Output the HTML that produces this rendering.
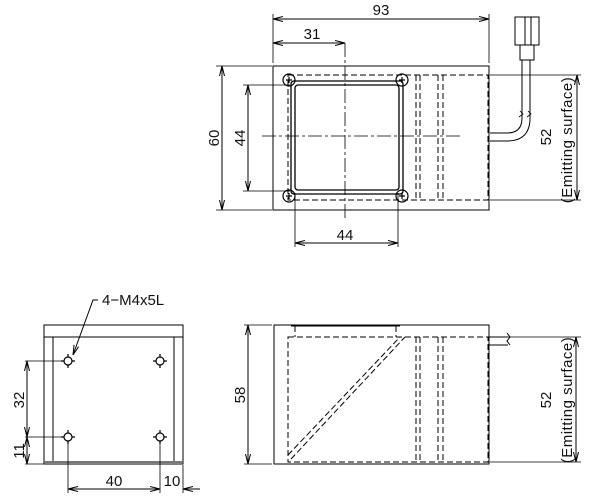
<!DOCTYPE html>
<html><head><style>
html,body{margin:0;padding:0;background:#fff;}
svg{display:block;}
text{font-family:"Liberation Sans",sans-serif;fill:#111;font-size:15px;}
.es{letter-spacing:0.5px;}
</style></head><body>
<svg width="604" height="501" viewBox="0 0 604 501" xmlns="http://www.w3.org/2000/svg">
<defs>
<marker id="a" viewBox="0 0 10 6" refX="10" refY="3" markerWidth="10" markerHeight="6" orient="auto-start-reverse" markerUnits="userSpaceOnUse"><path d="M0,0.5 L10,3 L0,5.5" fill="none" stroke="#000" stroke-width="1"/></marker>
</defs>
<g stroke="#000" stroke-width="1" fill="none">
<rect x="273" y="66" width="216" height="144"/>
<g stroke-dasharray="6,3">
<rect x="288" y="75" width="200" height="125"/>
<line x1="416" y1="75" x2="416" y2="200"/><line x1="420" y1="75" x2="420" y2="200"/>
<line x1="438" y1="75" x2="438" y2="200"/><line x1="443" y1="75" x2="443" y2="200"/>
</g>
<rect x="291" y="81" width="112" height="113" rx="3" stroke-width="1.3"/>
<rect x="295" y="85" width="104" height="105" rx="3" stroke-width="1.3"/>
<g stroke-width="1.2">
<circle cx="289" cy="80" r="6"/><circle cx="402" cy="80" r="6"/><circle cx="289" cy="196" r="6"/><circle cx="402" cy="196" r="6"/>
<path d="M286,80h6M289,77v6M399,80h6M402,77v6M286,196h6M289,193v6M399,196h6M402,193v6"/>
</g>
<g stroke-dasharray="14,3,3,3" stroke-width="0.8">
<line x1="345" y1="43" x2="345" y2="218"/>
<line x1="262" y1="136" x2="460" y2="136"/>
</g>
<rect x="515" y="17" width="24" height="28"/>
<path d="M525,17v28M531,17v28"/>
<rect x="520" y="45" width="14" height="15"/>
<path d="M522,60V118 Q522,133 507,133H490M530,60V118 Q530,141 507,141H490"/>
<path d="M519,117l4,-3l-3,-3M527,117l4,-3l-3,-3" stroke-width="0.8"/>
<path d="M273,63V14M489,63V14M216,66H272M216,210H272M243,85H290M243,191H290M295,193V247M398,193V247M490,75H581M490,200H581" stroke-width="0.8"/>
<line x1="273" y1="19" x2="489" y2="19" marker-start="url(#a)" marker-end="url(#a)"/>
<line x1="273" y1="43" x2="345" y2="43" marker-start="url(#a)" marker-end="url(#a)"/>
<line x1="222" y1="66" x2="222" y2="210" marker-start="url(#a)" marker-end="url(#a)"/>
<line x1="248" y1="85" x2="248" y2="191" marker-start="url(#a)" marker-end="url(#a)"/>
<line x1="295" y1="243" x2="398" y2="243" marker-start="url(#a)" marker-end="url(#a)"/>
<line x1="577" y1="75" x2="577" y2="200" marker-start="url(#a)" marker-end="url(#a)"/>

<rect x="44" y="325" width="139" height="139"/>
<path d="M44,337H183M53,337V462M174,337V462"/>
<line x1="44" y1="462" x2="183" y2="462" stroke-width="2" stroke="#777"/>
<g stroke-width="1.2">
<circle cx="68" cy="361" r="4"/><circle cx="160" cy="361" r="4"/><circle cx="68" cy="437" r="4"/><circle cx="160" cy="437" r="4"/>
<path d="M61,361h3M72,361h3M68,354v3M68,365v3M153,361h3M164,361h3M160,354v3M160,365v3M61,437h3M72,437h3M68,430v3M68,441v3M153,437h3M164,437h3M160,430v3M160,441v3"/>
</g>
<path d="M25,361H62M25,437H62M25,464H44M68,442V493M160,442V493M183,465V493" stroke-width="0.8"/>
<line x1="27" y1="361" x2="27" y2="437" marker-start="url(#a)" marker-end="url(#a)"/>
<line x1="27" y1="437" x2="27" y2="464" marker-start="url(#a)" marker-end="url(#a)"/>
<line x1="68" y1="489" x2="160" y2="489" marker-start="url(#a)" marker-end="url(#a)"/>
<line x1="200" y1="489" x2="183" y2="489" marker-end="url(#a)"/>
<path d="M98,300H93L73,355" marker-end="url(#a)"/>

<rect x="274" y="325" width="215" height="139"/>
<path d="M291,326H400"/>
<g stroke-dasharray="6,3">
<path d="M295,326V337M396,326V337"/>
<rect x="288" y="337" width="200" height="125"/>
<line x1="288" y1="455" x2="400" y2="337"/><line x1="291" y1="459" x2="405" y2="337"/>
<line x1="416" y1="337" x2="416" y2="462"/><line x1="420" y1="337" x2="420" y2="462"/>
<line x1="438" y1="337" x2="438" y2="462"/><line x1="443" y1="337" x2="443" y2="462"/>
</g>
<path d="M489,337H508M489,345H508M507,333l3,4l-3,4l3,4" />
<path d="M244,325H272M244,464H272M490,337H581M490,462H581" stroke-width="0.8"/>
<line x1="248" y1="325" x2="248" y2="464" marker-start="url(#a)" marker-end="url(#a)"/>
<line x1="576" y1="337" x2="576" y2="462" marker-start="url(#a)" marker-end="url(#a)"/>
</g>
<text x="381" y="15" text-anchor="middle">93</text>
<text x="312" y="39" text-anchor="middle">31</text>
<text x="345" y="240" text-anchor="middle">44</text>
<text transform="translate(219,138) rotate(-90)" text-anchor="middle">60</text>
<text transform="translate(245,138) rotate(-90)" text-anchor="middle">44</text>
<text transform="translate(551,137) rotate(-90)" text-anchor="middle">52</text>
<text class="es" transform="translate(572,140) rotate(-90)" text-anchor="middle">(Emitting  surface)</text>
<text x="102" y="305">4−M4x5L</text>
<text transform="translate(24,400) rotate(-90)" text-anchor="middle">32</text>
<text transform="translate(24,451) rotate(-90)" text-anchor="middle">11</text>
<text x="114" y="486" text-anchor="middle">40</text>
<text x="172" y="486" text-anchor="middle">10</text>
<text transform="translate(245,395) rotate(-90)" text-anchor="middle">58</text>
<text transform="translate(551,400) rotate(-90)" text-anchor="middle">52</text>
<text class="es" transform="translate(572,400) rotate(-90)" text-anchor="middle">(Emitting  surface)</text>
</svg>
</body></html>
